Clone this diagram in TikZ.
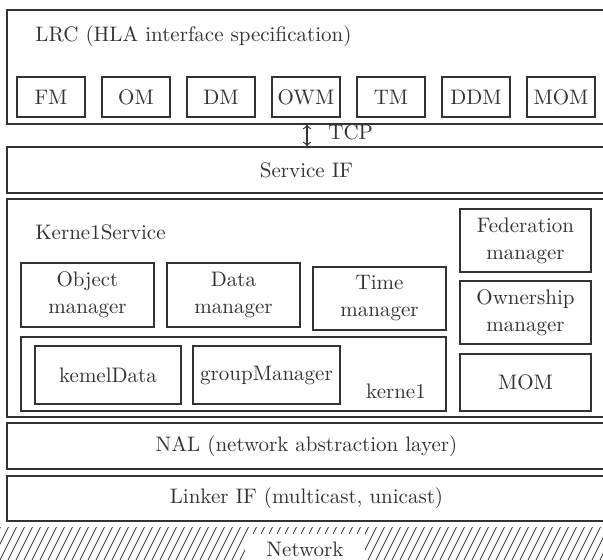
\documentclass[tikz,border=0pt]{standalone}
\definecolor{ink}{HTML}{333333}
\tikzset{
  blk/.style={draw=ink, line width=0.8pt, inner sep=0pt, align=center, text=ink},
  sz/.style 2 args={minimum width=#1pt, minimum height=#2pt},
  lbl/.style={inner sep=0pt, text=ink},
}
\begin{document}
\begin{tikzpicture}[x=0.5pt, y=-0.5pt, font=\fontsize{10.5}{13.5}\selectfont]
\useasboundingbox (0,0) rectangle (603,560);
\clip (0,0) rectangle (603,560);
% layers
\node[blk, sz={299.5}{57}] (lrc) at (306.5,67) {};
\node[blk, sz={299.5}{23}] (sif) at (306.5,170) {Service IF};
\node[blk, sz={299.5}{109}] (ksrv) at (306.5,308) {};
\node[blk, sz={299.5}{23}] (nal) at (306.5,446) {NAL (network abstraction layer)};
\node[blk, sz={299.5}{22.5}] (lnk) at (306.5,498.5) {Linker IF (multicast, unicast)};
% LRC
\node[lbl, anchor=base west] (lrclbl) at (35,42) {LRC (HLA interface specification)};
\foreach \m [count=\i from 0] in {FM,OM,DM,OWM,TM,DDM,MOM}
  \node[blk, sz={34}{20}] (lrc\m) at ({51+85*\i},97) {\m};
% TCP link
\coordinate (tcpx) at (307,0);
\draw[ink, line width=0.6pt, <->] (lrc.south -| tcpx) -- (sif.north -| tcpx);
\node[lbl, anchor=base west] (tcp) at (328,140) {TCP};
% kernel service
\node[lbl, anchor=base west] (kslbl) at (35,240) {Kerne1Service};
\node[blk, sz={66.5}{32}] (objm) at (87.5,295) {Object\\manager};
\node[blk, sz={66.5}{32}] (datm) at (233.5,295) {Data\\manager};
\node[blk, sz={66.5}{31.5}] (timm) at (379.5,298.5) {Time\\manager};
\node[blk, sz={65.5}{31.5}] (fedm) at (525.5,240.5) {Federation\\manager};
\node[blk, sz={65.5}{31.5}] (ownm) at (525.5,312.5) {Ownership\\manager};
\node[blk, sz={65.5}{28.5}] (mom) at (525.5,382.5) {MOM};
\node[blk, sz={212.5}{37}] (kern) at (233.5,374) {};
\node[blk, sz={73}{29}] (kdat) at (108,375) {kemelData};
\node[blk, sz={73.5}{29}] (gmgr) at (266.5,375) {groupManager};
\node[lbl, anchor=base] (kernlbl) at (396,398) {kerne1};
% network
\begin{scope}
\clip (0,527) rectangle (603,560);
\foreach \x in {-40,-32,...,610}
  \draw[ink, line width=0.4pt] (\x,560) -- ++(16.5,-33);
\end{scope}
\node[lbl, fill=white, sz={60}{15}] (net) at (305,549) {Network};
\end{tikzpicture}
\end{document}
